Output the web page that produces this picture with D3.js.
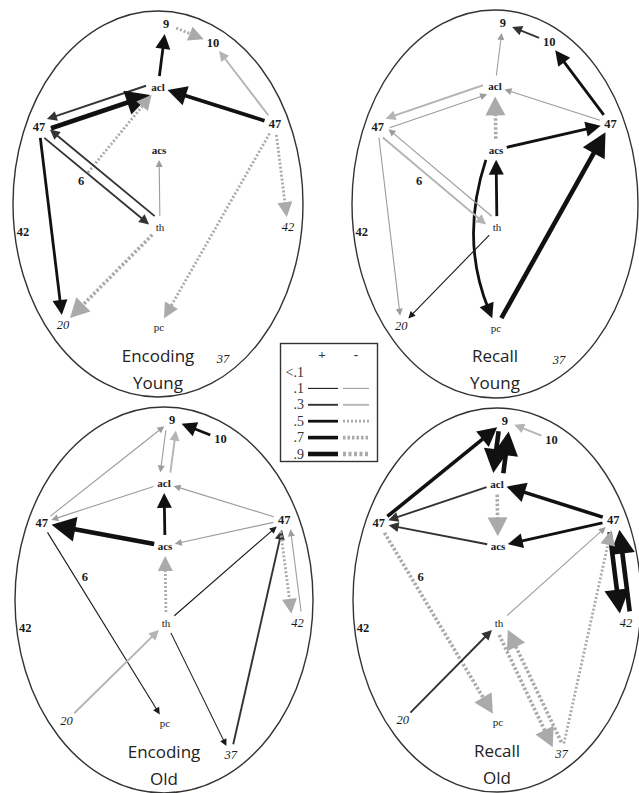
<!DOCTYPE html>
<html><head><meta charset="utf-8">
<script src="https://cdn.jsdelivr.net/npm/d3@7"></script>
<style>body{margin:0;background:#fff}svg{display:block}</style>
</head><body><svg id="c" width="639" height="793"></svg>
<script>
// ---------- data ----------
const panelTitles = [["Encoding","Young"],["Recall","Young"],["Encoding","Old"],["Recall","Old"]];
const nodeIds    = ["9","10","acl","47L","47R","acs","6","th","42L","42R","20","pc","37"];
const nodeLabels = ["9","10","acl","47","47","acs","6","th","42","42","20","pc","37"];
const nodeKind   = ["b","b","b","b","b","b","b","n","b","i","i","n","i"];
// layout of the nodes inside each ellipse (ellipse half-axes = 145 x 193)
const nodeX = [8, 55, 0, -119, 117, 1, -77, 2, -135, 130, -95, 1, 65];
const nodeY = [-180, -161, -117, -77, -80, -54, -23, 23, 28, 23, 121, 123, 155];
// nodes not shown in a panel: [panel, node]
const hiddenNodes = [[1,"42R"]];

// signed path coefficients: [source, target, value]
const edgesEncodingYoung = [
  ["acl","9",0.5],["9","10",-0.5],["47R","10",-0.3],["47R","acl",0.7],
  ["acl","47L",0.3],["47L","acl",0.9],["6","acl",-0.5],
  ["th","47L",0.3],["47L","th",0.3],["47L","20",0.5],["th","20",-0.7],
  ["th","acs",-0.1],["47R","42R",-0.5],["47R","pc",-0.5]
];
const edgesRecallYoung = [
  ["acl","9",-0.1],["10","9",0.3],["47R","10",0.5],["47R","acl",-0.1],
  ["acl","47L",-0.3],["47L","acl",-0.1],["acs","acl",-0.7],["acs","47R",0.5],
  ["pc","47R",0.9],["acs","pc",0.5],["th","acs",0.5],
  ["47L","th",-0.3],["th","47L",-0.1],["47L","20",-0.1],["th","20",0.1]
];
const edgesEncodingOld = [
  ["10","9",0.5],["47L","9",-0.1],["acl","9",-0.3],["9","acl",-0.1],
  ["acl","47L",-0.1],["47R","acl",-0.1],["acs","acl",0.5],["acs","47L",0.9],
  ["47R","acs",-0.1],["th","acs",-0.5],["th","47R",0.1],["47L","pc",0.1],
  ["th","37",0.1],["37","47R",0.3],["20","th",-0.3],
  ["42R","47R",-0.1],["47R","42R",-0.5]
];
const edgesRecallOld = [
  ["10","9",-0.3],["47L","9",0.7],["acl","9",0.9],["9","acl",0.9],
  ["acl","47L",0.3],["47R","acl",0.7],["acl","acs",-0.7],["acs","47L",0.3],
  ["47R","acs",0.5],["th","47R",-0.1],["47R","42R",0.9],["42R","47R",0.9],
  ["37","47R",-0.5],["47L","pc",-0.7],["20","th",0.3],
  ["37","th",-0.7],["th","37",-0.7]
];
const panelEdges = [edgesEncodingYoung, edgesRecallYoung, edgesEncodingOld, edgesRecallOld];
const curvedEdges = [[1,"acs","pc"]];

const legendRows = ["<.1",".1",".3",".5",".7",".9"];
const legendValues = [null,0.1,0.3,0.5,0.7,0.9];
const legendHeads = ["+","-"];

// ---------- layout / styles ----------
const panels = [
  {cx:158, cy:204, rx:145, ry:193},
  {cx:495, cy:204, rx:143, ry:194},
  {cx:164, cy:600, rx:149, ry:193},
  {cx:497, cy:600, rx:144, ry:192}
];
const levels = [0.1,0.3,0.5,0.7,0.9];
const sw   = d3.scaleOrdinal().domain(levels).range([1.1,1.9,2.8,3.6,4.6]);
const hLen = d3.scaleOrdinal().domain(levels).range([7,10,15,19,24]);
const hHalf= d3.scaleOrdinal().domain(levels).range([3.5,5,7.5,10,12.5]);
const negCol = d3.scaleOrdinal().domain(levels).range(["#9c9c9c","#b4b4b4","#aaaaaa","#aaaaaa","#aaaaaa"]);
const negDash= d3.scaleOrdinal().domain(levels).range([null,null,"2,2","2.5,2","3,2.5"]);
const posCol = d3.scaleOrdinal().domain(levels).range(["#1a1a1a","#333","#111","#111","#111"]);
function styleOf(v){
  const a = Math.round(Math.abs(v)*10)/10;
  return v>0 ? {w:sw(a), c:posCol(a), dash:null, L:hLen(a), W:hHalf(a)}
             : {w:sw(a), c:negCol(a), dash:negDash(a), L:hLen(a), W:hHalf(a)};
}

const svg = d3.select("#c");
svg.append("rect").attr("width",639).attr("height",793).attr("fill","#fff");

panels.forEach((P,pi)=>{
  const x = d3.scaleLinear().domain([-145,145]).range([P.cx-P.rx, P.cx+P.rx]);
  const y = d3.scaleLinear().domain([-193,193]).range([P.cy-P.ry, P.cy+P.ry]);
  const pos = id => { const i = nodeIds.indexOf(id); return [x(nodeX[i]), y(nodeY[i])]; };
  const g = svg.append("g");
  g.append("ellipse").attr("cx",P.cx).attr("cy",P.cy).attr("rx",P.rx).attr("ry",P.ry)
    .attr("fill","none").attr("stroke","#333").attr("stroke-width",1.4);

  const edges = panelEdges[pi];
  const eg = g.append("g");
  edges.forEach(([s,t,v])=>{
    const st = styleOf(v);
    const hasRev = edges.some(e=>e[0]===t && e[1]===s);
    const off = hasRev ? 5 : 0;
    const curved = curvedEdges.some(c=>c[0]===pi && c[1]===s && c[2]===t);
    const A = pos(s), B = pos(t);
    const gs = 11, gt = 10;
    let d, tip, ux, uy;
    if (curved){
      const mx=(A[0]+B[0])/2, my=(A[1]+B[1])/2;
      const C=[mx-36, my];
      let a0=[C[0]-A[0],C[1]-A[1]], la=Math.hypot(...a0);
      const S=[A[0]+a0[0]/la*gs-6, A[1]+a0[1]/la*gs];
      let b0=[B[0]-C[0],B[1]-C[1]], lb=Math.hypot(...b0);
      ux=b0[0]/lb; uy=b0[1]/lb;
      tip=[B[0]-ux*gt, B[1]-uy*gt];
      const E=[tip[0]-ux*st.L*0.7, tip[1]-uy*st.L*0.7];
      d = `M${S[0]},${S[1]} Q${C[0]},${C[1]} ${E[0]},${E[1]}`;
    } else {
      const dx=B[0]-A[0], dy=B[1]-A[1], len=Math.hypot(dx,dy);
      ux=dx/len; uy=dy/len;
      const nx=-uy, ny=ux;
      const S=[A[0]+ux*gs+nx*off, A[1]+uy*gs+ny*off];
      tip=[B[0]-ux*gt+nx*off, B[1]-uy*gt+ny*off];
      const E=[tip[0]-ux*st.L*0.7, tip[1]-uy*st.L*0.7];
      d = `M${S[0]},${S[1]} L${E[0]},${E[1]}`;
    }
    eg.append("path").attr("d",d).attr("fill","none").attr("stroke",st.c)
      .attr("stroke-width",st.w).attr("stroke-dasharray",st.dash);
    const nx=-uy, ny=ux;
    const bx=tip[0]-ux*st.L, by=tip[1]-uy*st.L;
    eg.append("path").attr("d",`M${tip[0]},${tip[1]} L${bx+nx*st.W},${by+ny*st.W} L${bx-nx*st.W},${by-ny*st.W}Z`)
      .attr("fill",st.c);
  });

  const lg = g.append("g");
  nodeIds.forEach((id,i)=>{
    if (hiddenNodes.some(h=>h[0]===pi && h[1]===id)) return;
    const p = pos(id);
    const k = nodeKind[i];
    const small = ["acl","acs","th","pc"].includes(id);
    lg.append("text").attr("x",p[0]).attr("y",p[1]).attr("text-anchor","middle")
      .attr("dominant-baseline","central")
      .attr("font-family","'Liberation Serif', serif")
      .attr("font-size", small?11:12.5)
      .attr("font-weight", k==="b"?"bold":"normal")
      .attr("font-style", k==="i"?"italic":"normal")
      .attr("fill","#1a1a1a").text(nodeLabels[i]);
  });
  panelTitles[pi].forEach((txt,j)=>{
    lg.append("text").attr("x",x(0)).attr("y",y(151+j*27)).attr("text-anchor","middle")
      .attr("dominant-baseline","central").attr("font-family","'Open Sans', sans-serif")
      .attr("font-size",17).attr("fill","#222").text(txt);
  });
});

// legend
const L = svg.append("g");
L.append("rect").attr("x",280.5).attr("y",343.5).attr("width",97).attr("height",118)
  .attr("fill","#fff").attr("stroke","#333").attr("stroke-width",1.4);
const ry = d3.scalePoint().domain(legendRows).range([372,454]);
legendHeads.forEach((h,i)=>{
  L.append("text").attr("x",i?356:322).attr("y",354).attr("text-anchor","middle")
    .attr("dominant-baseline","central").attr("font-family","'Liberation Serif', serif")
    .attr("font-size",13).attr("font-weight","bold").attr("fill","#333").text(h);
});
legendRows.forEach((r,i)=>{
  const yy = ry(r);
  L.append("text").attr("x",304).attr("y",yy).attr("text-anchor","end")
    .attr("dominant-baseline","central").attr("font-family","'Liberation Serif', serif")
    .attr("font-size",14).attr("fill","#333").text(r);
  const v = legendValues[i];
  if (v!==null){
    [v,-v].forEach((vv,j)=>{
      const st = styleOf(vv);
      L.append("line").attr("x1",j?343:308).attr("x2",j?369:338).attr("y1",yy).attr("y2",yy)
        .attr("stroke",st.c).attr("stroke-width",st.w).attr("stroke-dasharray",st.dash);
    });
  }
});
</script></body></html>
